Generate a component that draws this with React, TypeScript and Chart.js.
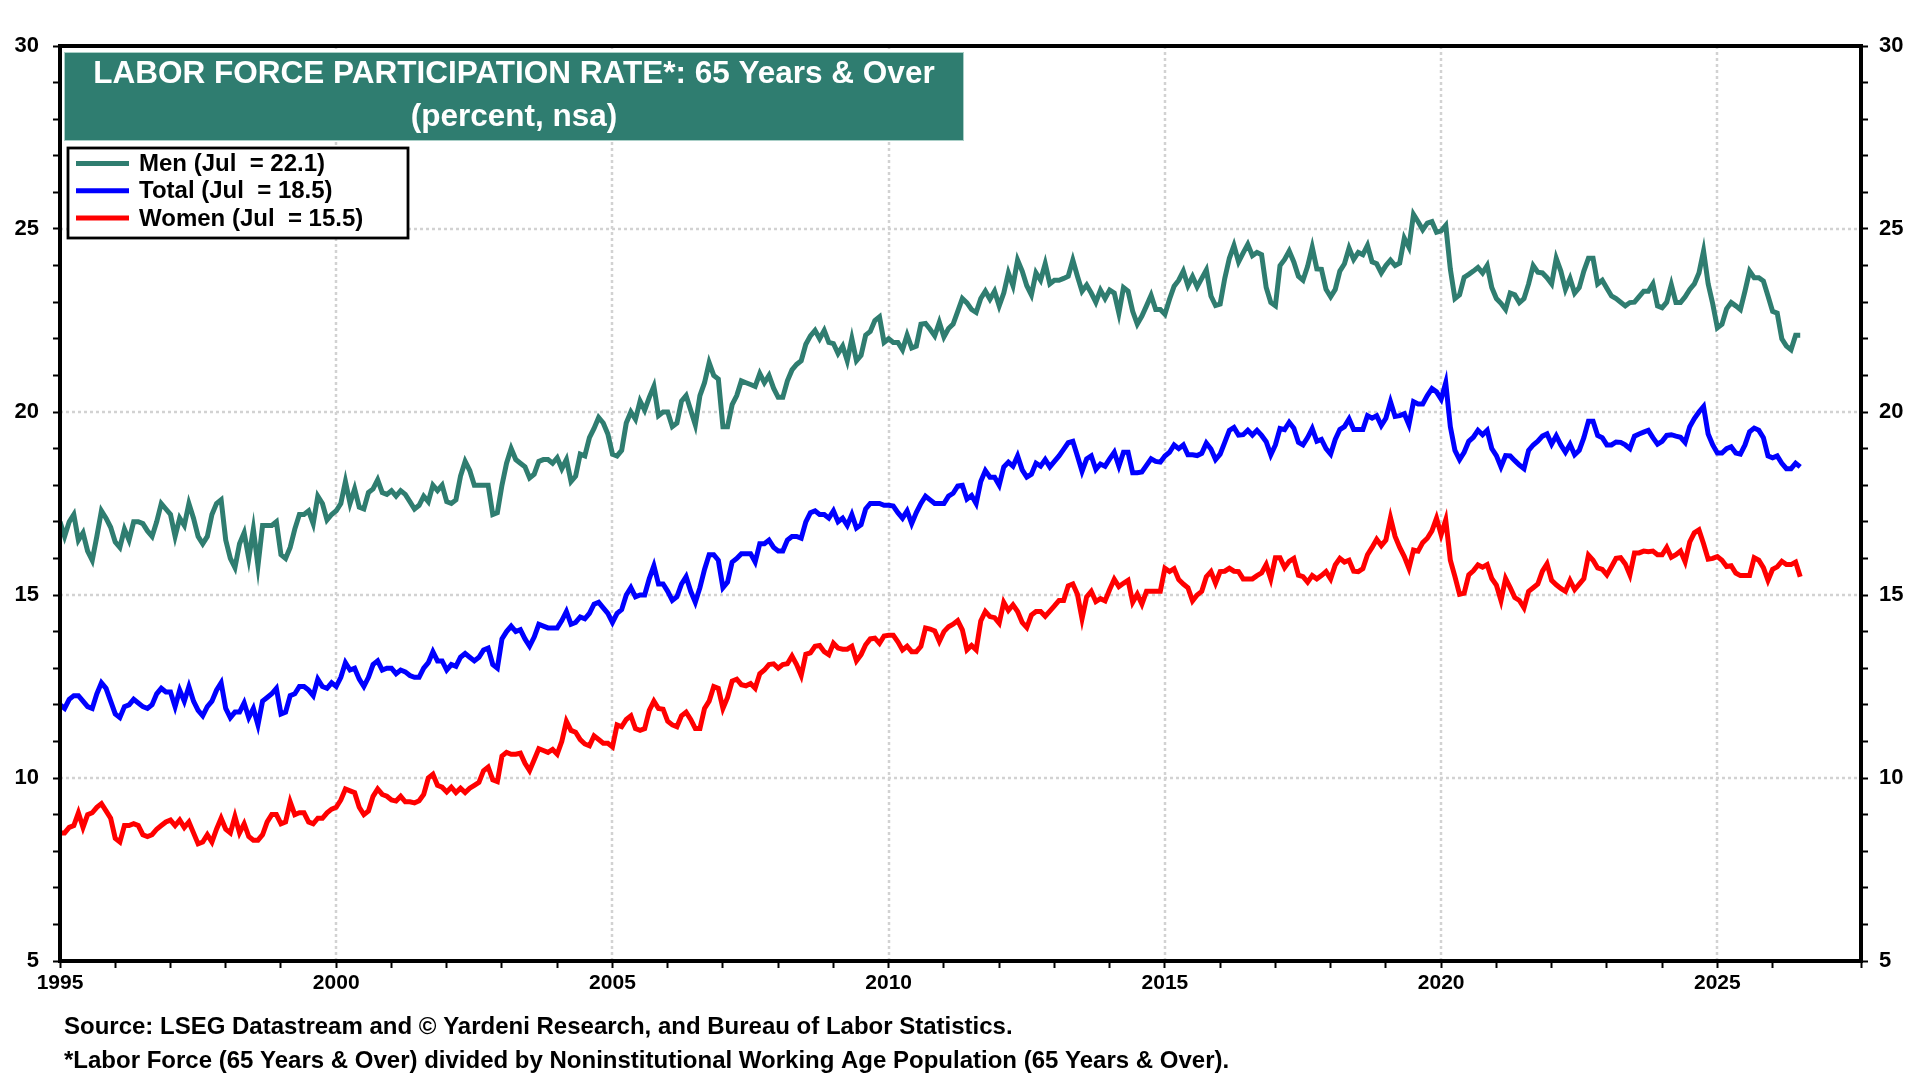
import { useRef, useEffect } from "react";
import { Chart, registerables } from "chart.js";

Chart.register(...registerables);

// monthly readings, Jan 1995 .. Jul 2026
const startYear = 1995;

const menValues: number[] = [
  17.0, 16.6, 17.0, 17.2, 16.5, 16.7, 16.2, 15.95, 16.6, 17.3, 17.1, 16.85,
  16.45, 16.3, 16.8, 16.5, 17.0, 17.0, 16.95, 16.75, 16.6, 17.0, 17.5, 17.35,
  17.2, 16.6, 17.1, 16.9, 17.5, 17.1, 16.6, 16.4, 16.6, 17.2, 17.5, 17.6,
  16.5, 16.0, 15.75, 16.4, 16.7, 16.0, 16.8, 15.8, 16.9, 16.9, 16.9, 17.0,
  16.1, 16.0, 16.3, 16.8, 17.2, 17.2, 17.3, 16.95, 17.7, 17.5, 17.05, 17.2,
  17.3, 17.5, 18.1, 17.5, 17.9, 17.4, 17.35, 17.8, 17.9, 18.15, 17.8, 17.75,
  17.85, 17.7, 17.85, 17.75, 17.55, 17.35, 17.45, 17.7, 17.55, 18.0, 17.85, 18.0,
  17.55, 17.5, 17.6, 18.25, 18.65, 18.4, 18.0, 18.0, 18.0, 18.0, 17.2, 17.25,
  18.0, 18.6, 19.0, 18.7, 18.6, 18.5, 18.2, 18.3, 18.65, 18.7, 18.7, 18.6,
  18.75, 18.45, 18.7, 18.1, 18.25, 18.85, 18.8, 19.3, 19.55, 19.85, 19.7, 19.4,
  18.85, 18.8, 18.95, 19.7, 20.0, 19.8, 20.3, 20.05, 20.4, 20.7, 19.9, 20.0,
  20.0, 19.6, 19.7, 20.3, 20.45, 20.05, 19.65, 20.45, 20.8, 21.35, 21.0, 20.9,
  19.6, 19.6, 20.2, 20.45, 20.85, 20.8, 20.75, 20.7, 21.05, 20.8, 21.0, 20.65,
  20.4, 20.4, 20.85, 21.15, 21.3, 21.4, 21.85, 22.08, 22.23, 22.0, 22.23, 21.9,
  21.87, 21.6, 21.8, 21.4, 22.0, 21.4, 21.55, 22.1, 22.2, 22.5, 22.6, 21.9,
  22.0, 21.9, 21.9, 21.7, 22.1, 21.75, 21.8, 22.4, 22.42, 22.26, 22.08, 22.45,
  22.05, 22.28, 22.4, 22.75, 23.1, 22.98, 22.8, 22.72, 23.1, 23.3, 23.08, 23.3,
  22.9, 23.25, 23.8, 23.45, 24.15, 23.85, 23.45, 23.2, 23.8, 23.6, 24.05, 23.5,
  23.6, 23.6, 23.65, 23.71, 24.15, 23.71, 23.3, 23.47, 23.25, 23.0, 23.33, 23.1,
  23.33, 23.25, 22.7, 23.4, 23.3, 22.75, 22.4, 22.62, 22.9, 23.19, 22.8, 22.8,
  22.67, 23.08, 23.44, 23.6, 23.85, 23.45, 23.7, 23.42, 23.65, 23.88, 23.17, 22.91,
  22.95, 23.65, 24.2, 24.55, 24.1, 24.35, 24.58, 24.27, 24.36, 24.3, 23.4, 22.99,
  22.9, 24.0, 24.17, 24.4, 24.1, 23.71, 23.6, 23.98, 24.5, 23.91, 23.9, 23.35,
  23.15, 23.35, 23.85, 24.05, 24.48, 24.17, 24.36, 24.3, 24.55, 24.1, 24.05, 23.8,
  24.0, 24.15, 24.0, 24.07, 24.75, 24.5, 25.4, 25.2, 24.98, 25.16, 25.2, 24.91,
  24.95, 25.1, 23.9, 23.1, 23.2, 23.68, 23.76, 23.85, 23.95, 23.8, 24.0, 23.4,
  23.1, 22.97, 22.8, 23.25, 23.2, 22.99, 23.1, 23.5, 24.0, 23.82, 23.8, 23.67,
  23.5, 24.2, 23.85, 23.35, 23.65, 23.25, 23.4, 23.85, 24.2, 24.2, 23.5, 23.6,
  23.38, 23.17, 23.1, 23.0, 22.9, 22.99, 23.0, 23.15, 23.3, 23.3, 23.5, 22.9,
  22.85, 23.0, 23.48, 22.99, 22.99, 23.15, 23.35, 23.5, 23.8, 24.4, 23.5, 22.95,
  22.3, 22.4, 22.82, 22.99, 22.9, 22.8, 23.3, 23.85, 23.67, 23.67, 23.58, 23.17,
  22.75, 22.7, 22.0, 21.8, 21.7, 22.1, 22.1,
];

const totalValues: number[] = [
  12.0, 11.9, 12.15, 12.25, 12.25, 12.1, 11.95, 11.9, 12.3, 12.6, 12.45, 12.1,
  11.75, 11.65, 11.95, 12.0, 12.15, 12.05, 11.95, 11.9, 12.0, 12.3, 12.45, 12.35,
  12.35, 11.95, 12.4, 12.1, 12.5, 12.1, 11.85, 11.7, 11.95, 12.1, 12.4, 12.6,
  11.9, 11.65, 11.8, 11.8, 12.05, 11.65, 11.9, 11.45, 12.1, 12.2, 12.3, 12.45,
  11.75, 11.8, 12.25, 12.3, 12.5, 12.5, 12.4, 12.25, 12.7, 12.5, 12.45, 12.6,
  12.5, 12.75, 13.15, 12.95, 13.0, 12.7, 12.5, 12.75, 13.1, 13.2, 12.95, 13.0,
  13.0, 12.85, 12.95, 12.9, 12.8, 12.75, 12.75, 13.0, 13.15, 13.45, 13.2, 13.2,
  12.95, 13.1, 13.05, 13.3, 13.4, 13.3, 13.2, 13.3, 13.5, 13.55, 13.1, 13.0,
  13.8, 14.0, 14.15, 14.0, 14.05, 13.8, 13.6, 13.85, 14.2, 14.15, 14.1, 14.1,
  14.1, 14.3, 14.55, 14.2, 14.25, 14.4, 14.35, 14.5, 14.75, 14.8, 14.65, 14.5,
  14.25, 14.5, 14.6, 15.0, 15.2, 14.95, 15.0, 15.0, 15.45, 15.8, 15.3, 15.3,
  15.1, 14.85, 14.95, 15.3, 15.5, 15.1, 14.8, 15.2, 15.7, 16.1, 16.1, 15.95,
  15.2, 15.35, 15.9, 16.0, 16.13, 16.13, 16.13, 15.9, 16.4, 16.4, 16.5, 16.3,
  16.2, 16.2, 16.5, 16.6, 16.6, 16.55, 17.0, 17.25, 17.3, 17.2, 17.2, 17.1,
  17.3, 17.0, 17.1, 16.9, 17.2, 16.83, 16.92, 17.35, 17.5, 17.5, 17.5, 17.45,
  17.45, 17.43, 17.25, 17.1, 17.3, 16.95, 17.25, 17.5, 17.7, 17.6, 17.5, 17.5,
  17.5, 17.7, 17.78, 17.98, 18.0, 17.62, 17.72, 17.5, 18.1, 18.4, 18.22, 18.22,
  18.0, 18.5, 18.63, 18.52, 18.8, 18.42, 18.22, 18.3, 18.6, 18.52, 18.7, 18.5,
  18.65, 18.8, 18.98, 19.16, 19.2, 18.8, 18.38, 18.72, 18.8, 18.43, 18.58, 18.52,
  18.72, 18.9, 18.52, 18.9, 18.9, 18.34, 18.34, 18.36, 18.54, 18.72, 18.65, 18.63,
  18.8, 18.9, 19.1, 19.0, 19.1, 18.83, 18.83, 18.81, 18.87, 19.15, 18.99, 18.7,
  18.85, 19.17, 19.5, 19.58, 19.37, 19.38, 19.5, 19.37, 19.5, 19.36, 19.19, 18.83,
  19.1, 19.55, 19.52, 19.72, 19.56, 19.17, 19.1, 19.3, 19.55, 19.2, 19.25, 19.0,
  18.85, 19.25, 19.52, 19.6, 19.81, 19.52, 19.52, 19.52, 19.9, 19.83, 19.9, 19.63,
  19.83, 20.28, 19.88, 19.9, 19.95, 19.65, 20.28, 20.22, 20.22, 20.45, 20.64, 20.55,
  20.35, 20.8, 19.6, 18.95, 18.7, 18.9, 19.2, 19.31, 19.5, 19.38, 19.5, 19.0,
  18.81, 18.5, 18.81, 18.8, 18.67, 18.55, 18.45, 18.95, 19.1, 19.2, 19.34, 19.4,
  19.12, 19.35, 19.1, 18.9, 19.12, 18.83, 18.95, 19.3, 19.75, 19.75, 19.36, 19.3,
  19.1, 19.1, 19.18, 19.17, 19.1, 19.0, 19.34, 19.4, 19.45, 19.5, 19.3, 19.12,
  19.2, 19.36, 19.38, 19.34, 19.31, 19.17, 19.6, 19.82, 20.0, 20.15, 19.4, 19.1,
  18.88, 18.88, 19.0, 19.05, 18.88, 18.85, 19.1, 19.46, 19.56, 19.5, 19.3, 18.8,
  18.75, 18.8, 18.6, 18.45, 18.45, 18.6, 18.5,
];

const womenValues: number[] = [
  8.5, 8.5, 8.65, 8.7, 9.05, 8.65, 9.0, 9.05, 9.2, 9.3, 9.1, 8.9,
  8.35, 8.25, 8.7, 8.7, 8.75, 8.7, 8.45, 8.4, 8.45, 8.6, 8.7, 8.8,
  8.85, 8.7, 8.85, 8.65, 8.8, 8.5, 8.2, 8.25, 8.45, 8.25, 8.6, 8.9,
  8.6, 8.5, 8.95, 8.5, 8.75, 8.4, 8.3, 8.3, 8.45, 8.8, 9.0, 9.0,
  8.75, 8.8, 9.35, 9.0, 9.05, 9.05, 8.8, 8.75, 8.9, 8.9, 9.05, 9.15,
  9.2, 9.4, 9.7, 9.65, 9.6, 9.2, 9.0, 9.1, 9.5, 9.7, 9.55, 9.5,
  9.4, 9.37, 9.5, 9.35, 9.35, 9.32, 9.38, 9.55, 10.0, 10.1, 9.8, 9.75,
  9.62, 9.75, 9.6, 9.72, 9.6, 9.72, 9.8, 9.88, 10.2, 10.3, 9.95, 9.9,
  10.6, 10.7, 10.65, 10.65, 10.68, 10.4, 10.2, 10.5, 10.8, 10.75, 10.7, 10.78,
  10.65, 11.0, 11.55, 11.3, 11.25, 11.05, 10.93, 10.88, 11.15, 11.05, 10.95, 10.95,
  10.85, 11.45, 11.4, 11.6, 11.7, 11.35, 11.3, 11.35, 11.85, 12.1, 11.9, 11.88,
  11.55, 11.45, 11.4, 11.7, 11.8, 11.6, 11.35, 11.35, 11.9, 12.1, 12.5, 12.45,
  11.9, 12.2, 12.65, 12.7, 12.55, 12.52, 12.58, 12.45, 12.85, 12.95, 13.1, 13.12,
  13.0, 13.1, 13.12, 13.33, 13.1, 12.8, 13.38, 13.42, 13.6, 13.62, 13.45, 13.37,
  13.68, 13.55, 13.52, 13.52, 13.6, 13.2, 13.37, 13.64, 13.8, 13.82, 13.68, 13.88,
  13.9, 13.9, 13.72, 13.5, 13.6, 13.45, 13.45, 13.6, 14.1, 14.07, 14.02, 13.73,
  14.0, 14.13, 14.2, 14.3, 14.05, 13.5, 13.62, 13.5, 14.29, 14.55, 14.41, 14.38,
  14.23, 14.8, 14.58, 14.73, 14.55, 14.25, 14.11, 14.45, 14.55, 14.55, 14.42, 14.56,
  14.7, 14.85, 14.85, 15.25, 15.3, 15.02, 14.35, 14.95, 15.1, 14.82, 14.9, 14.84,
  15.15, 15.43, 15.23, 15.32, 15.4, 14.8, 15.02, 14.75, 15.1, 15.1, 15.1, 15.1,
  15.73, 15.64, 15.72, 15.42, 15.3, 15.2, 14.84, 15.0, 15.1, 15.5, 15.64, 15.32,
  15.64, 15.65, 15.73, 15.65, 15.64, 15.44, 15.44, 15.44, 15.53, 15.6, 15.83, 15.44,
  16.02, 16.02, 15.75, 15.92, 16.0, 15.54, 15.5, 15.35, 15.53, 15.44, 15.53, 15.64,
  15.44, 15.82, 16.0, 15.9, 15.95, 15.65, 15.64, 15.72, 16.1, 16.3, 16.52, 16.35,
  16.5, 17.11, 16.6, 16.3, 16.05, 15.73, 16.23, 16.2, 16.43, 16.55, 16.75, 17.1,
  16.65, 17.05, 15.95, 15.5, 15.02, 15.05, 15.55, 15.66, 15.82, 15.76, 15.83, 15.45,
  15.27, 14.85, 15.45, 15.2, 14.93, 14.85, 14.65, 15.1, 15.2, 15.3, 15.65, 15.85,
  15.4, 15.28, 15.18, 15.1, 15.4, 15.15, 15.3, 15.45, 16.09, 15.95, 15.74, 15.7,
  15.55, 15.77, 16.0, 16.02, 15.85, 15.55, 16.15, 16.15, 16.2, 16.18, 16.2, 16.1,
  16.1, 16.3, 16.03, 16.1, 16.2, 15.91, 16.45, 16.7, 16.78, 16.4, 15.98, 16.0,
  16.05, 15.95, 15.78, 15.8, 15.6, 15.53, 15.53, 15.53, 16.02, 15.95, 15.75, 15.4,
  15.7, 15.77, 15.92, 15.83, 15.83, 15.9, 15.5,
];

const yTicksLabelled = [5, 10, 15, 20, 25, 30];
const xLabelYears = [1995, 2000, 2005, 2010, 2015, 2020, 2025];
const yGridValues = [10, 15, 20, 25];
const xGridYears = [2000, 2005, 2010, 2015, 2020, 2025];

const titleLines = ["LABOR FORCE PARTICIPATION RATE*: 65 Years & Over", "(percent, nsa)"];
const footnotes = [
  "Source: LSEG Datastream and \u00a9 Yardeni Research, and Bureau of Labor Statistics.",
  "*Labor Force (65 Years & Over) divided by Noninstitutional Working Age Population (65 Years & Over).",
];

const TEAL = "#2f7d70";
const FONT = "'Liberation Sans', Arial, sans-serif";

function toPoints(values: number[]) {
  return values.map((v, i) => ({ x: startYear + i / 12, y: v }));
}

const decorPlugin = {
  id: "decor",
  beforeDatasetsDraw(chart: any) {
    const { ctx, chartArea: a, scales } = chart;
    ctx.save();
    ctx.strokeStyle = "#d2d2d2";
    ctx.lineWidth = 2.5;
    ctx.setLineDash([3, 3]);
    yGridValues.forEach((v) => {
      const y = Math.round(scales.y.getPixelForValue(v));
      ctx.beginPath();
      ctx.moveTo(a.left, y);
      ctx.lineTo(a.right, y);
      ctx.stroke();
    });
    xGridYears.forEach((yr) => {
      const x = Math.round(scales.x.getPixelForValue(yr));
      ctx.beginPath();
      ctx.moveTo(x, a.top);
      ctx.lineTo(x, a.bottom);
      ctx.stroke();
    });
    ctx.restore();
  },
  afterDatasetsDraw(chart: any) {
    const { ctx, chartArea: a } = chart;
    ctx.save();
    // frame
    ctx.strokeStyle = "#000";
    ctx.lineWidth = 4;
    ctx.strokeRect(a.left, a.top, a.right - a.left, a.bottom - a.top);

    // title box
    ctx.fillStyle = TEAL;
    ctx.fillRect(64, 52, 900, 89);
    ctx.strokeStyle = "#a9cfc7";
    ctx.lineWidth = 1;
    ctx.strokeRect(64.5, 52.5, 899, 88);
    ctx.fillStyle = "#fff";
    ctx.textAlign = "center";
    ctx.textBaseline = "middle";
    ctx.font = `bold 31.5px ${FONT}`;
    ctx.fillText(titleLines[0], 514, 74);
    ctx.fillText(titleLines[1], 514, 117);

    // legend
    ctx.fillStyle = "#fff";
    ctx.fillRect(68, 148, 340, 90);
    ctx.strokeStyle = "#000";
    ctx.lineWidth = 2.8;
    ctx.strokeRect(68, 148, 340, 90);
    ctx.textAlign = "left";
    ctx.font = `bold 24px ${FONT}`;
    chart.data.datasets.forEach((ds: any, i: number) => {
      const y = 163.5 + i * 27.2;
      ctx.strokeStyle = ds.borderColor;
      ctx.lineWidth = 5;
      ctx.beginPath();
      ctx.moveTo(76, y);
      ctx.lineTo(129, y);
      ctx.stroke();
      ctx.fillStyle = "#000";
      ctx.fillText(ds.label, 139, y + 1);
    });

    // footnotes
    ctx.font = `bold 24px ${FONT}`;
    ctx.fillStyle = "#000";
    ctx.fillText(footnotes[0], 64, 1027);
    ctx.fillText(footnotes[1], 64, 1061);
    ctx.restore();
  },
};

function yAxis(position: "left" | "right", width: number, padding: number) {
  return {
    type: "linear" as const,
    position,
    min: 5,
    max: 30,
    afterFit: (s: any) => {
      s.width = width;
    },
    border: { display: false },
    grid: {
      drawOnChartArea: false,
      drawTicks: true,
      tickLength: 7,
      tickWidth: 2,
      tickColor: "#000",
    },
    ticks: {
      stepSize: 1,
      autoSkip: false,
      padding,
      color: "#000",
      font: { family: FONT, size: 22, weight: "bold" as const },
      callback: (v: any) => (yTicksLabelled.includes(Number(v)) ? String(v) : ""),
    },
  };
}

export default function App() {
  const canvasRef = useRef<HTMLCanvasElement>(null);
  const chartRef = useRef<Chart | null>(null);

  useEffect(() => {
    if (canvasRef && canvasRef.current) {
      const last = (arr: number[]) => arr[arr.length - 1].toFixed(1);
      chartRef.current = new Chart(canvasRef.current, {
        type: "line",
        data: {
          datasets: [
            {
              label: `Men (Jul  = ${last(menValues)})`,
              data: toPoints(menValues),
              borderColor: TEAL,
              backgroundColor: TEAL,
              borderWidth: 5,
              pointRadius: 0,
              tension: 0,
              yAxisID: "y",
            },
            {
              label: `Total (Jul  = ${last(totalValues)})`,
              data: toPoints(totalValues),
              borderColor: "#0000ff",
              backgroundColor: "#0000ff",
              borderWidth: 5,
              pointRadius: 0,
              tension: 0,
              yAxisID: "y",
            },
            {
              label: `Women (Jul  = ${last(womenValues)})`,
              data: toPoints(womenValues),
              borderColor: "#ff0000",
              backgroundColor: "#ff0000",
              borderWidth: 5,
              pointRadius: 0,
              tension: 0,
              yAxisID: "y",
            },
          ],
        },
        options: {
          animation: false,
          responsive: false,
          devicePixelRatio: 1,
          layout: { padding: { top: 46, left: 0, right: 0, bottom: 0 } },
          plugins: {
            legend: { display: false },
            title: { display: false },
            tooltip: { enabled: false },
          },
          scales: {
            x: {
              type: "linear",
              min: 1995,
              max: 2027.6,
              afterFit: (s: any) => {
                s.height = 119;
              },
              border: { display: false },
              grid: {
                drawOnChartArea: false,
                drawTicks: true,
                tickLength: 7,
                tickWidth: 2,
                tickColor: "#000",
              },
              ticks: {
                stepSize: 1,
                autoSkip: false,
                maxRotation: 0,
                padding: 3,
                color: "#000",
                font: { family: FONT, size: 21, weight: "bold" },
                callback: (v: any) => (xLabelYears.includes(Number(v)) ? String(v) : ""),
              },
            },
            y: yAxis("left", 60, 14),
            y2: yAxis("right", 59, 11),
          },
        },
        plugins: [decorPlugin],
      });
    }

    return () => {
      if (chartRef.current) {
        chartRef.current.destroy();
        chartRef.current = null;
      }
    };
  }, []);

  return (
    <div style={{ position: "fixed", left: 0, top: 0, width: 1920, height: 1080, background: "#fff" }}>
      <canvas ref={canvasRef} width={1920} height={1080} style={{ display: "block", width: 1920, height: 1080 }} />
    </div>
  );
}
